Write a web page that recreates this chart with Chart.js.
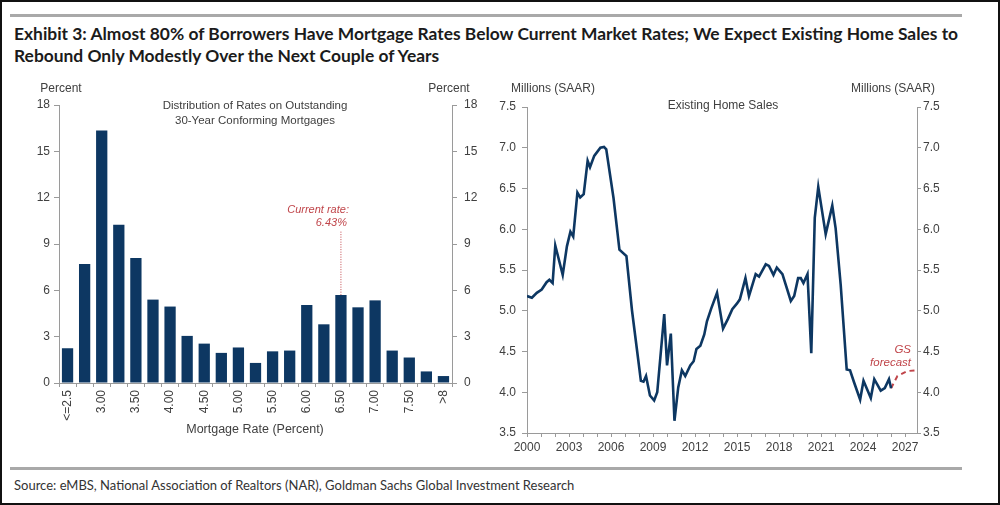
<!DOCTYPE html>
<html>
<head>
<meta charset="utf-8">
<script src="https://cdn.jsdelivr.net/npm/chart.js@4.4.1/dist/chart.umd.min.js"></script>
<style>
  html, body { margin: 0; padding: 0; background: #fff; }
  #frame {
    position: relative; width: 1000px; height: 505px; box-sizing: border-box;
    border: 2px solid #111; overflow: hidden; background: #fff;
  }
  .rule { position: absolute; left: 8px; width: 952px; height: 3px; background: #a9a9a9; }
  #title {
    position: absolute; left: 12px; top: 21px; font-family: Lato, 'Open Sans', sans-serif;
    font-weight: 700; font-size: 17.4px; line-height: 22px; color: #1b1b1b; white-space: nowrap;
  }
  #source {
    position: absolute; left: 12px; top: 475px; font-family: Lato, 'Open Sans', sans-serif;
    font-size: 13px; color: #333; white-space: nowrap;
  }
  .box { position: absolute; }
</style>
</head>
<body>
<div id="frame">
  <div class="rule" style="top:12px"></div>
  <div id="title">Exhibit 3: Almost 80% of Borrowers Have Mortgage Rates Below Current Market Rates; We Expect Existing Home Sales to<br>Rebound Only Modestly Over the Next Couple of Years</div>

  <div class="box" style="left:0px; top:73px; width:480px; height:370px;"><canvas id="rates"></canvas></div>
  <div class="box" style="left:488px; top:73px; width:510px; height:385px;"><canvas id="sales"></canvas></div>

  <div class="rule" style="top:465px"></div>
  <div id="source">Source: eMBS, National Association of Realtors (NAR), Goldman Sachs Global Investment Research</div>
</div>

<script>
// left panel: distribution of outstanding mortgage rates
const rateLabels = ['<=2.5', '2.75', '3.00', '3.25', '3.50', '3.75', '4.00', '4.25', '4.50', '4.75', '5.00',
    '5.25', '5.50', '5.75', '6.00', '6.25', '6.50', '6.75', '7.00', '7.25', '7.50', '7.75', '>8'];
const rateShares = [2.25, 7.7, 16.35, 10.25, 8.1, 5.4, 4.95, 3.05, 2.55, 1.95, 2.3,
    1.3, 2.05, 2.1, 5.05, 3.8, 5.7, 4.9, 5.35, 2.1, 1.65, 0.75, 0.45];
const rateTicks = [0, 3, 6, 9, 12, 15, 18];
const currentRateLabel = '6.50';
const currentRateText = '6.43%';

// right panel: existing home sales, millions SAAR
const saleYears = [2000.0, 2000.35, 2000.7, 2001.05, 2001.4, 2001.6, 2001.83, 2002.02, 2002.55, 2002.85,
    2003.1, 2003.3, 2003.6, 2003.8, 2004.05, 2004.33, 2004.5, 2004.8, 2005.24, 2005.5,
    2005.66, 2006.18, 2006.6, 2007.1, 2007.5, 2007.95, 2008.13, 2008.32, 2008.5, 2008.78,
    2009.08, 2009.3, 2009.8, 2010.0, 2010.27, 2010.53, 2010.8, 2011.06, 2011.3, 2011.66,
    2011.9, 2012.1, 2012.38, 2012.66, 2012.85, 2013.14, 2013.57, 2014.0, 2014.35, 2014.66,
    2015.0, 2015.2, 2015.6, 2015.85, 2016.33, 2016.57, 2017.05, 2017.28, 2017.6, 2017.84,
    2018.24, 2018.84, 2019.08, 2019.36, 2019.55, 2019.74, 2020.03, 2020.3, 2020.55, 2020.8,
    2021.33, 2021.8, 2022.04, 2022.4, 2022.83, 2023.07, 2023.36, 2023.79, 2024.03, 2024.55,
    2024.8, 2025.26, 2025.55, 2025.85, 2026.0];
const saleValues = [5.18, 5.16, 5.22, 5.26, 5.35, 5.38, 5.34, 5.80, 5.44, 5.79,
    5.97, 5.91, 6.45, 6.39, 6.43, 6.84, 6.76, 6.90, 7.00, 7.01,
    6.98, 6.38, 5.75, 5.67, 5.00, 4.39, 4.14, 4.13, 4.20, 3.96,
    3.90, 4.00, 4.96, 4.33, 4.72, 3.65, 4.06, 4.27, 4.20, 4.33,
    4.38, 4.53, 4.57, 4.71, 4.87, 5.02, 5.22, 4.78, 4.90, 5.02,
    5.09, 5.14, 5.40, 5.18, 5.45, 5.42, 5.57, 5.55, 5.44, 5.53,
    5.45, 5.12, 5.18, 5.40, 5.40, 5.34, 5.45, 4.48, 6.14, 6.52,
    5.94, 6.29, 6.01, 5.32, 4.28, 4.27, 4.12, 3.91, 4.14, 3.93,
    4.16, 4.02, 4.05, 4.16, 4.05];
const forecastYears = [2026.0, 2026.45, 2027.16, 2027.85];
const forecastValues = [4.05, 4.20, 4.26, 4.27];
const yearTicks = [2000, 2003, 2006, 2009, 2012, 2015, 2018, 2021, 2024, 2027];

const NAVY = '#0d3762';
const RED = '#c0454a';
const AXIS = '#9a9a9a';

Chart.defaults.font.family = "'Liberation Sans', Arial, sans-serif";
Chart.defaults.font.size = 12;
Chart.defaults.color = '#404040';
Chart.defaults.animation = false;

// draws plain text labels at canvas positions
function textPlugin(id, items) {
    return {
        id: id,
        afterDraw(chart) {
            const ctx = chart.ctx;
            items.forEach(t => {
                ctx.save();
                ctx.font = t.font || "12px 'Liberation Sans', Arial, sans-serif";
                ctx.fillStyle = t.color || '#404040';
                ctx.textAlign = t.align || 'center';
                ctx.textBaseline = 'middle';
                ctx.fillText(t.text, t.x, t.y);
                ctx.restore();
            });
        },
    };
}

function fixWidth(w) { return scale => { scale.width = w; }; }
function fixHeight(h) { return scale => { scale.height = h; }; }

// Chart one: rate distribution
const currentRateMarker = {
    id: 'currentRate',
    afterDatasetsDraw(chart) {
        const ctx = chart.ctx;
        const x = chart.scales.x.getPixelForValue(rateLabels.indexOf(currentRateLabel));
        const top = chart.scales.y.getPixelForValue(9.8);
        const bottom = chart.scales.y.getPixelForValue(rateShares[rateLabels.indexOf(currentRateLabel)]);
        ctx.save();
        ctx.strokeStyle = RED;
        ctx.lineWidth = 1;
        ctx.setLineDash([1, 1.5]);
        ctx.beginPath();
        ctx.moveTo(x, top);
        ctx.lineTo(x, bottom);
        ctx.stroke();
        ctx.fillStyle = RED;
        ctx.font = "italic 11px 'Liberation Sans', Arial, sans-serif";
        ctx.textAlign = 'right';
        ctx.textBaseline = 'middle';
        ctx.fillText('Current rate:', x + 8, top - 22);
        ctx.fillText(currentRateText, x + 6, top - 9);
        ctx.restore();
    },
};

new Chart(document.getElementById('rates'), {
    type: 'bar',
    data: {
        labels: rateLabels,
        datasets: [
            {
                data: rateShares,
                backgroundColor: NAVY,
                barPercentage: 0.66,
                categoryPercentage: 1.0,
            },
        ],
    },
    options: {
        responsive: true,
        maintainAspectRatio: false,
        layout: { padding: { top: 30, bottom: 0, left: 0, right: 0 } },
        plugins: { legend: { display: false }, tooltip: { enabled: false } },
        scales: {
            x: {
                grid: { display: true, drawOnChartArea: false, tickLength: 4, color: AXIS },
                border: { color: AXIS },
                ticks: {
                    autoSkip: false, minRotation: 90, maxRotation: 90, padding: 3,
                    callback: (v, i) => (i % 2 === 0 ? rateLabels[i] : ''),
                },
                afterFit: fixHeight(62),
            },
            y: {
                position: 'left', min: 0, max: 18,
                grid: { drawOnChartArea: false, tickLength: 5, color: AXIS },
                border: { color: AXIS },
                ticks: { stepSize: 3, padding: 4 },
                afterBuildTicks: s => { s.ticks = rateTicks.map(v => ({ value: v })); },
                afterFit: fixWidth(57),
            },
            y2: {
                position: 'right', min: 0, max: 18,
                grid: { drawOnChartArea: false, tickLength: 5, color: AXIS },
                border: { color: AXIS },
                ticks: { stepSize: 3, padding: 7 },
                afterBuildTicks: s => { s.ticks = rateTicks.map(v => ({ value: v })); },
                afterFit: fixWidth(30),
            },
        },
    },
    plugins: [
        currentRateMarker,
        textPlugin('ratesText', [
            { text: 'Percent', x: 59, y: 14 },
            { text: 'Percent', x: 447, y: 14 },
            { text: 'Distribution of Rates on Outstanding', x: 253, y: 31, font: "11.5px 'Liberation Sans', Arial, sans-serif" },
            { text: '30-Year Conforming Mortgages', x: 253, y: 46, font: "11.5px 'Liberation Sans', Arial, sans-serif" },
            { text: 'Mortgage Rate (Percent)', x: 253, y: 355, font: "12.5px 'Liberation Sans', Arial, sans-serif" },
        ]),
    ],
});

// Chart two: existing home sales
new Chart(document.getElementById('sales'), {
    type: 'line',
    data: {
        datasets: [
            {
                data: saleYears.map((x, i) => ({ x: x, y: saleValues[i] })),
                borderColor: NAVY,
                borderWidth: 2.6,
                pointRadius: 0,
                tension: 0,
                fill: false,
            },
            {
                data: forecastYears.map((x, i) => ({ x: x, y: forecastValues[i] })),
                borderColor: RED,
                borderWidth: 2,
                borderDash: [5, 4],
                pointRadius: 0,
                tension: 0,
                fill: false,
            },
        ],
    },
    options: {
        responsive: true,
        maintainAspectRatio: false,
        layout: { padding: { top: 32, bottom: 0, left: 0, right: 0 } },
        plugins: { legend: { display: false }, tooltip: { enabled: false } },
        scales: {
            x: {
                type: 'linear', min: 2000, max: 2027.85,
                grid: { drawOnChartArea: false, tickLength: 4, color: AXIS },
                border: { color: AXIS },
                ticks: {
                    autoSkip: false, maxRotation: 0, padding: 3,
                    callback: v => (yearTicks.includes(v) ? String(v) : ''),
                },
                // one tick mark per year, labels every third year
                afterBuildTicks: s => {
                    const t = [];
                    for (let y = 2000; y <= 2027; y++) t.push({ value: y });
                    s.ticks = t;
                },
                afterFit: fixHeight(27),
            },
            y: {
                position: 'left', min: 3.5, max: 7.5,
                grid: { drawOnChartArea: false, tickLength: 5, color: AXIS },
                border: { color: AXIS },
                ticks: { stepSize: 0.5, padding: 6, callback: v => v.toFixed(1) },
                afterFit: fixWidth(37),
            },
            y2: {
                position: 'right', min: 3.5, max: 7.5,
                grid: { drawOnChartArea: false, tickLength: 4, color: AXIS },
                border: { color: AXIS },
                ticks: { stepSize: 0.5, padding: 2, callback: v => v.toFixed(1) },
                afterFit: fixWidth(83),
            },
        },
    },
    plugins: [
        textPlugin('salesText', [
            { text: 'Millions (SAAR)', x: 63, y: 14 },
            { text: 'Millions (SAAR)', x: 403, y: 14 },
            { text: 'Existing Home Sales', x: 233, y: 31 },
            { text: 'GS', x: 421, y: 275, align: 'right', color: RED, font: "italic 11.5px 'Liberation Sans', Arial, sans-serif" },
            { text: 'forecast', x: 421, y: 288, align: 'right', color: RED, font: "italic 11.5px 'Liberation Sans', Arial, sans-serif" },
        ]),
    ],
});
</script>
</body>
</html>
